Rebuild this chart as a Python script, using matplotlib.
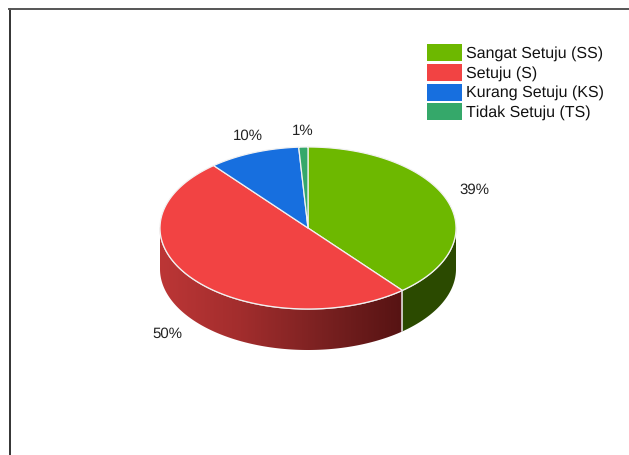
import numpy as np
import matplotlib
matplotlib.use("Agg")
import matplotlib.pyplot as plt
from matplotlib.patches import Polygon, Rectangle
from matplotlib.colors import LinearSegmentedColormap

categories = ["Sangat Setuju (SS)", "Setuju (S)", "Kurang Setuju (KS)", "Tidak Setuju (TS)"]
values = [39, 50, 10, 1]
labels = ["39%", "50%", "10%", "1%"]
colors = ["#6db800", "#f24343", "#176fdf", "#35a86a"]

plt.rcParams["font.family"] = ["Liberation Sans", "DejaVu Sans"]
plt.rcParams["text.hinting"] = "no_hinting"
plt.rcParams["text.hinting_factor"] = 1

W, H = 629, 456
cx, cy, rx, ry, depth = 308, 229, 148, 81, 41

fig = plt.figure(figsize=(W / 100, H / 100), dpi=100)
ax = fig.add_axes([0, 0, 1, 1])
ax.set_xlim(0, W)
ax.set_ylim(H, 0)
ax.axis("off")


def rim(a0, a1, n=200):
    # angles run clockwise from the top of the ellipse
    t = np.radians(np.linspace(a0, a1, n))
    return cx + rx * np.sin(t), cy - ry * np.cos(t)


# slice boundaries in degrees
edges = np.cumsum([0] + values) / sum(values) * 360

# side wall of the first slice, visible part only
x, y = rim(90, edges[1])
pts = np.r_[np.c_[x, y], np.c_[x[::-1], y[::-1] + depth]]
ax.add_patch(Polygon(pts, closed=True, fc="#2b4a00", ec="none", zorder=2))

# side wall of the second slice with a horizontal shade
x, y = rim(edges[1], 270)
pts = np.r_[np.c_[x, y], np.c_[x[::-1], y[::-1] + depth]]
wall = Polygon(pts, closed=True, fc="none", ec="none", zorder=2)
ax.add_patch(wall)
shade = LinearSegmentedColormap.from_list("shade", ["#bc3636", "#a22d2d", "#7a2121", "#561313"])
img = ax.imshow(np.linspace(0, 1, 256)[None, :], cmap=shade, aspect="auto",
                extent=(cx - rx, x[0], cy + ry + depth, cy), zorder=2)
img.set_clip_path(wall)
ax.set_xlim(0, W)
ax.set_ylim(H, 0)

# white seam where the two walls meet
x, y = rim(edges[1], edges[1], 1)
ax.plot([x[0], x[0]], [y[0], y[0] + depth], color="#e8e8e8", lw=1.1, zorder=3)
# light line under the front rim
x, y = rim(90, 270)
ax.plot(x, y, color="#e8dcdc", lw=1.0, zorder=3)

# top face
for i, c in enumerate(colors):
    x, y = rim(edges[i], edges[i + 1])
    pts = np.r_[[[cx, cy]], np.c_[x, y]]
    ax.add_patch(Polygon(pts, closed=True, fc=c, ec="#f2f2f2", lw=0.9, joinstyle="round", zorder=4))

# percent labels
label_pos = [(474.5, 190), (167, 334), (248, 136), (303, 131)]
for s, (lx, ly) in zip(labels, label_pos):
    ax.text(lx, ly, s, fontsize=10.6, color="#222222", ha="center", va="center", zorder=5)

# legend
rows = [53.5, 73.5, 93, 112.5]
for name, c, row in zip(categories, colors, rows):
    ax.add_patch(Rectangle((427, row - 8.5), 35, 17, fc=c, ec="none", zorder=5))
    ax.text(466, row, name, fontsize=11.3, color="#111111", ha="left", va="center", zorder=5)

# page frame, left and top
ax.plot([9.5, 9.5], [10, H], color="#111111", lw=1.2, zorder=6)
ax.plot([9, W], [10, 10], color="#555555", lw=1.4, zorder=6)

fig.savefig("out.png", dpi=100)
